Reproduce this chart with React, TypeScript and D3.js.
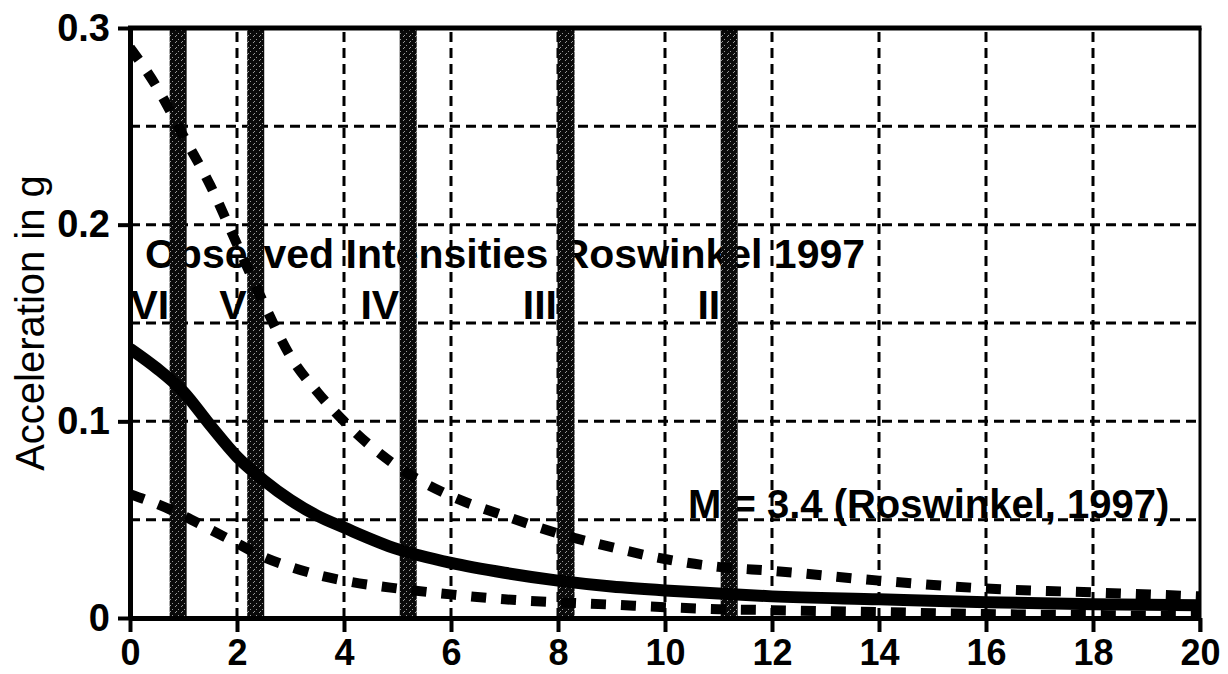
import React, { useEffect, useRef } from 'react'
import * as d3 from 'd3'

// distance from epicentre (km) and the three attenuation curves (g)
const distance = [0, 0.5, 1, 1.5, 2, 2.5, 3, 3.5, 4, 5, 6, 7, 8, 9, 10, 11, 12, 14, 16, 18, 20]
const upperCurve = [0.29, 0.27, 0.245, 0.22, 0.19, 0.16, 0.133, 0.115, 0.1, 0.077, 0.062, 0.052, 0.043, 0.036, 0.03, 0.026, 0.024, 0.019, 0.015, 0.013, 0.011]
const medianCurve = [0.137, 0.127, 0.115, 0.098, 0.082, 0.07, 0.06, 0.052, 0.046, 0.035, 0.028, 0.023, 0.019, 0.016, 0.014, 0.0125, 0.011, 0.0095, 0.008, 0.007, 0.0065]
const lowerCurve = [0.063, 0.058, 0.052, 0.045, 0.038, 0.031, 0.026, 0.022, 0.019, 0.015, 0.012, 0.0095, 0.008, 0.0068, 0.0055, 0.0045, 0.004, 0.003, 0.002, 0.0015, 0.001]

// observed intensity boundaries (Roswinkel 1997)
const bandCenters = [0.9, 2.35, 5.2, 8.15, 11.2]
const intensityLabels = ['VI', 'V', 'IV', 'III', 'II']

const xTicks = [0, 2, 4, 6, 8, 10, 12, 14, 16, 18, 20]
const yTicks = [0, 0.1, 0.2, 0.3]
const xGrid = [2, 4, 6, 8, 10, 12, 14, 16, 18]
const yGrid = [0.05, 0.1, 0.15, 0.2, 0.25]

const FONT = '"Liberation Sans", Arial, sans-serif'

export default function App() {
  const ref = useRef<SVGSVGElement>(null)

  useEffect(() => {
    document.body.style.margin = '0'
    const width = 1228
    const height = 674
    const margin = { top: 28, right: 28, bottom: 56, left: 130 }

    const svg = d3.select(ref.current)
    svg.selectAll('*').remove()

    const x = d3.scaleLinear().domain([0, 20]).range([margin.left, width - margin.right])
    const y = d3.scaleLinear().domain([0, 0.3]).range([height - margin.bottom, margin.top])

    const defs = svg.append('defs')
    defs.append('clipPath').attr('id', 'plot')
      .append('rect')
      .attr('x', x(0)).attr('y', y(0.3))
      .attr('width', x(20) - x(0)).attr('height', y(0) - y(0.3))

    const pat = defs.append('pattern').attr('id', 'speckle')
      .attr('width', 6).attr('height', 6).attr('patternUnits', 'userSpaceOnUse')
    pat.append('rect').attr('width', 6).attr('height', 6).attr('fill', '#0a0a0a')
    ;[[1, 0], [4, 3], [2, 5]].forEach(([px, py]) => {
      pat.append('rect').attr('x', px).attr('y', py).attr('width', 1).attr('height', 1).attr('fill', '#999')
    })

    // grid
    svg.append('g').selectAll('line').data(xGrid).enter().append('line')
      .attr('x1', d => x(d)).attr('x2', d => x(d))
      .attr('y1', y(0)).attr('y2', y(0.3))
      .attr('stroke', '#000').attr('stroke-width', 3).attr('stroke-dasharray', '10,6')
    svg.append('g').selectAll('line').data(yGrid).enter().append('line')
      .attr('x1', x(0)).attr('x2', x(20))
      .attr('y1', d => y(d)).attr('y2', d => y(d))
      .attr('stroke', '#000').attr('stroke-width', 3).attr('stroke-dasharray', '10,6')

    // annotations
    const ann = svg.append('g').attr('font-family', FONT).attr('font-weight', 'bold').attr('fill', '#000')
    ann.append('text')
      .attr('x', x(0.28)).attr('y', y(0.178))
      .attr('font-size', 41)
      .text('Observed Intensities Roswinkel 1997')
    ann.selectAll('.roman').data(intensityLabels).enter().append('text')
      .attr('x', (d, i) => x(bandCenters[i]) - 9)
      .attr('y', y(0.152))
      .attr('text-anchor', 'end')
      .attr('font-size', 41)
      .text(d => d)
    ann.append('text')
      .attr('x', x(10.43)).attr('y', y(0.051))
      .attr('font-size', 40)
      .text('M = 3.4 (Roswinkel, 1997)')

    // intensity bands
    svg.append('g').attr('clip-path', 'url(#plot)')
      .selectAll('rect').data(bandCenters).enter().append('rect')
      .attr('x', d => x(d) - 8.5).attr('width', 17)
      .attr('y', y(0.3)).attr('height', y(0) - y(0.3))
      .attr('fill', 'url(#speckle)')

    // curves
    const line = (vals: number[]) => d3.line<number>()
      .x((d, i) => x(distance[i]))
      .y(d => y(d))
      .curve(d3.curveMonotoneX)(vals)

    const curves = svg.append('g').attr('clip-path', 'url(#plot)').attr('fill', 'none').attr('stroke', '#000')
    curves.append('path').attr('d', line(upperCurve))
      .attr('stroke-width', 10).attr('stroke-dasharray', '15,15')
    curves.append('path').attr('d', line(lowerCurve))
      .attr('stroke-width', 10).attr('stroke-dasharray', '15,15')
    curves.append('path').attr('d', line(medianCurve))
      .attr('stroke-width', 12)

    // axes
    const xAxis = svg.append('g')
      .attr('transform', `translate(0,${y(0)})`)
      .call(d3.axisBottom(x).tickValues(xTicks).tickSizeInner(14).tickSizeOuter(0).tickPadding(7).tickFormat(d3.format('d')))
    const yAxis = svg.append('g')
      .attr('transform', `translate(${x(0)},0)`)
      .call(d3.axisLeft(y).tickValues(yTicks).tickSizeInner(12).tickSizeOuter(0).tickPadding(8)
        .tickFormat(d => (+d === 0 ? '0' : d3.format('.1f')(+d))))

    ;[xAxis, yAxis].forEach(ax => {
      ax.select('.domain').attr('stroke', '#000').attr('stroke-width', 5)
      ax.selectAll('.tick line').attr('stroke', '#000').attr('stroke-width', 4)
      ax.selectAll('.tick text')
        .attr('fill', '#000').attr('font-family', FONT)
        .attr('font-weight', 'bold').attr('font-size', 36)
    })
    yAxis.selectAll('.tick text').attr('font-size', 38)

    // frame top and right
    svg.append('line')
      .attr('x1', x(0) - 2).attr('x2', x(20) + 1.5)
      .attr('y1', y(0.3)).attr('y2', y(0.3))
      .attr('stroke', '#000').attr('stroke-width', 5)
    svg.append('line')
      .attr('x1', x(20)).attr('x2', x(20))
      .attr('y1', y(0.3)).attr('y2', y(0) + 14)
      .attr('stroke', '#000').attr('stroke-width', 3)

    // y axis title
    svg.append('text')
      .attr('transform', `translate(44,${(y(0) + y(0.3)) / 2}) rotate(-90)`)
      .attr('text-anchor', 'middle')
      .attr('font-family', FONT).attr('font-size', 40)
      .attr('fill', '#000')
      .text('Acceleration in g')
  }, [])

  return <svg ref={ref} width={1228} height={674} style={{ display: 'block', background: '#fff' }} />
}
